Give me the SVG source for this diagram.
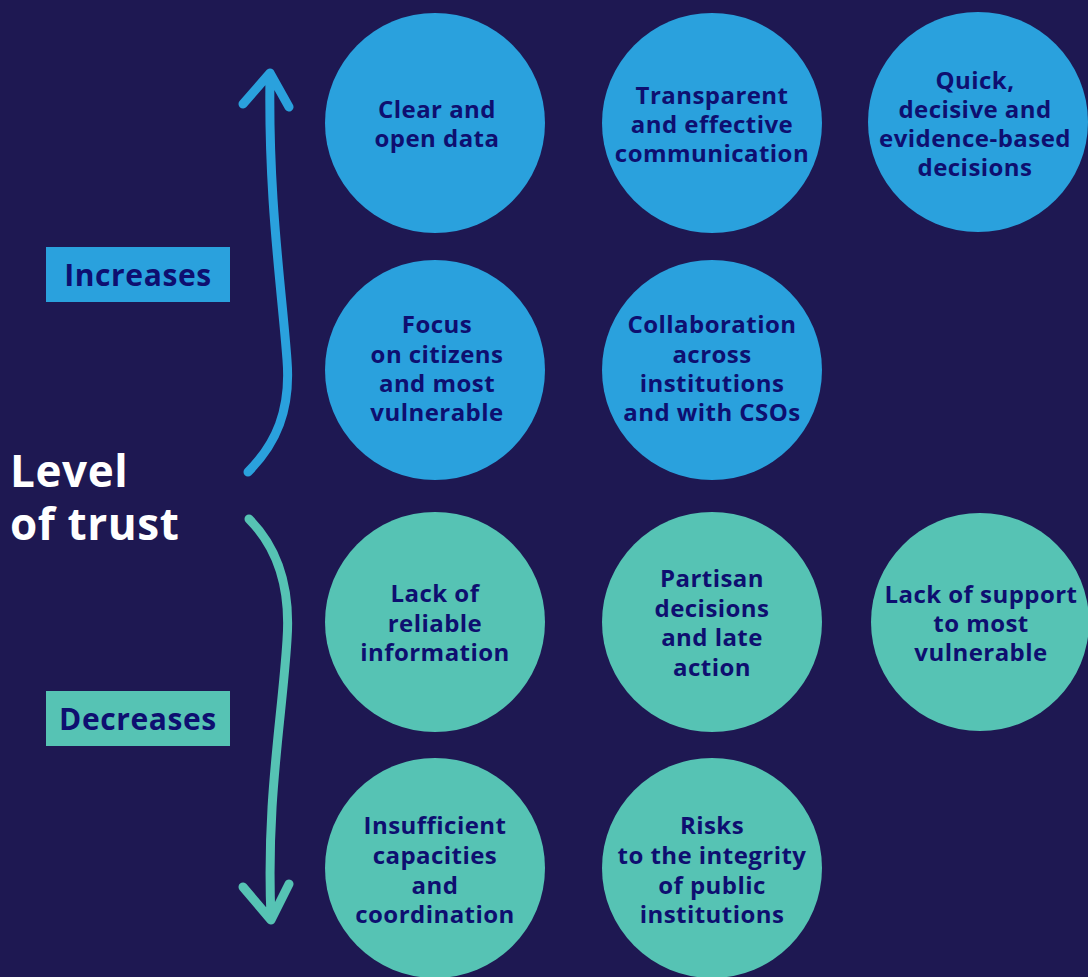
<svg xmlns="http://www.w3.org/2000/svg" width="1088" height="977" viewBox="0 0 1088 977">
<style>
.bg{fill:#1e1852}
.up{fill:#2aa1dd}
.down{fill:#56c3b4}
.t{font-family:"Open Sans","Liberation Sans",sans-serif;font-weight:700;font-size:24px;letter-spacing:0.45px;fill:#0e0f70;text-anchor:middle}
.lbl{font-family:"Open Sans","Liberation Sans",sans-serif;font-weight:700;font-size:30px;letter-spacing:0.6px;fill:#0e0f70;text-anchor:middle}
.big{font-family:"Open Sans","Liberation Sans",sans-serif;font-weight:700;font-size:44px;letter-spacing:0.6px;fill:#ffffff}
.arr{fill:none;stroke-width:9;stroke-linecap:round;stroke-linejoin:round}
</style>
<rect class="bg" x="0" y="0" width="1088" height="977"/>
<g id="connectors">
<path class="arr" stroke="#2aa1dd" d="M248,472 C276,444 291,410 287,360 C282,290 268,200 270,76 M243,104 L270,73 L289,107"/>
<path class="arr" stroke="#56c3b4" d="M249,519 C276,546 291,585 287,640 C282,720 266,800 271,918 M243,887 L271,920 L289,884"/>
</g>
<g id="level-of-trust">
<text class="big" x="10" y="487">Level</text>
<text class="big" x="10" y="540">of trust</text>
</g>
<g id="increases">
<rect class="up" x="46" y="247" width="184" height="55"/>
<text class="lbl" x="138" y="286">Increases</text>
</g>
<g id="decreases">
<rect class="down" x="46" y="691" width="184" height="55"/>
<text class="lbl" x="138" y="730">Decreases</text>
</g>
<g id="clear-data">
<circle class="up" cx="435" cy="123" r="110"/>
<text class="t"><tspan x="437" y="118">Clear and</tspan><tspan x="437" y="147">open data</tspan></text>
</g>
<g id="transparent">
<circle class="up" cx="712" cy="123" r="110"/>
<text class="t"><tspan x="712" y="104">Transparent</tspan><tspan x="712" y="133">and effective</tspan><tspan x="712" y="162">communication</tspan></text>
</g>
<g id="quick">
<circle class="up" cx="978" cy="122" r="110"/>
<text class="t"><tspan x="975" y="89">Quick,</tspan><tspan x="975" y="118">decisive and</tspan><tspan x="975" y="147">evidence-based</tspan><tspan x="975" y="176">decisions</tspan></text>
</g>
<g id="focus">
<circle class="up" cx="435" cy="370" r="110"/>
<text class="t"><tspan x="437" y="333">Focus</tspan><tspan x="437" y="363">on citizens</tspan><tspan x="437" y="392">and most</tspan><tspan x="437" y="421">vulnerable</tspan></text>
</g>
<g id="collaboration">
<circle class="up" cx="712" cy="370" r="110"/>
<text class="t"><tspan x="712" y="333">Collaboration</tspan><tspan x="712" y="363">across</tspan><tspan x="712" y="392">institutions</tspan><tspan x="712" y="421">and with CSOs</tspan></text>
</g>
<g id="lack-info">
<circle class="down" cx="435" cy="622" r="110"/>
<text class="t"><tspan x="435" y="602">Lack of</tspan><tspan x="435" y="632">reliable</tspan><tspan x="435" y="661">information</tspan></text>
</g>
<g id="partisan">
<circle class="down" cx="712" cy="622" r="110"/>
<text class="t"><tspan x="712" y="587">Partisan</tspan><tspan x="712" y="617">decisions</tspan><tspan x="712" y="646">and late</tspan><tspan x="712" y="676">action</tspan></text>
</g>
<g id="lack-support">
<circle class="down" cx="980" cy="622" r="109"/>
<text class="t"><tspan x="981" y="603">Lack of support</tspan><tspan x="981" y="632">to most</tspan><tspan x="981" y="661">vulnerable</tspan></text>
</g>
<g id="insufficient">
<circle class="down" cx="435" cy="868" r="110"/>
<text class="t"><tspan x="435" y="834">Insufficient</tspan><tspan x="435" y="864">capacities</tspan><tspan x="435" y="894">and</tspan><tspan x="435" y="923">coordination</tspan></text>
</g>
<g id="risks">
<circle class="down" cx="712" cy="868" r="110"/>
<text class="t"><tspan x="712" y="834">Risks</tspan><tspan x="712" y="864">to the integrity</tspan><tspan x="712" y="894">of public</tspan><tspan x="712" y="923">institutions</tspan></text>
</g>
</svg>
